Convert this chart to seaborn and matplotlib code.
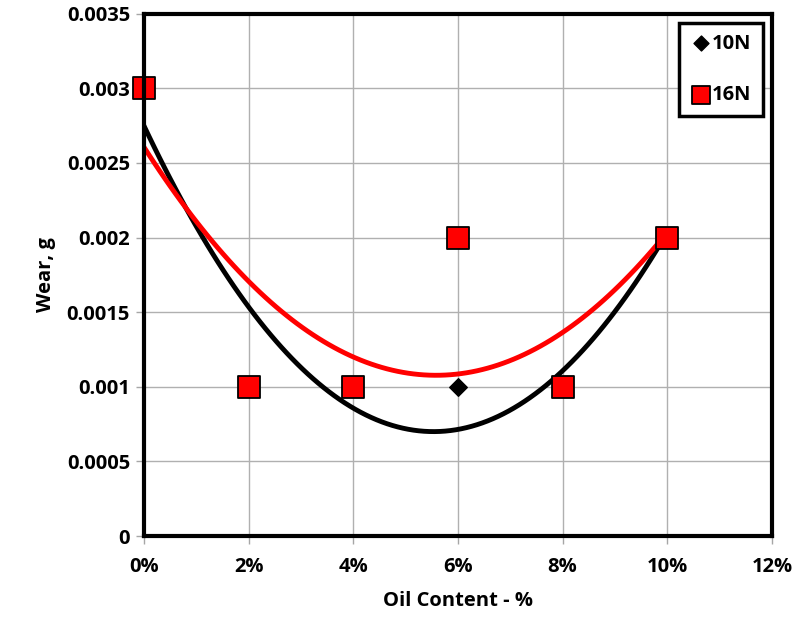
import matplotlib
matplotlib.use("Agg")
import matplotlib.pyplot as plt
import seaborn as sns
import numpy as np
import pandas as pd
from matplotlib.ticker import FuncFormatter, MultipleLocator

sns.set_theme(style="white")
plt.rcParams['font.family'] = ['Open Sans', 'DejaVu Sans']
plt.rcParams['text.color'] = 'black'
plt.rcParams['axes.labelcolor'] = 'black'
plt.rcParams['xtick.labelcolor'] = 'black'
plt.rcParams['ytick.labelcolor'] = 'black'

oil_content = [0.0, 0.02, 0.04, 0.06, 0.08, 0.10]
wear_10N = [0.003, 0.001, 0.001, 0.001, 0.001, 0.002]
wear_16N = [0.003, 0.001, 0.001, 0.002, 0.001, 0.002]
series_names = ["10N", "16N"]

df = pd.DataFrame({
    "oil": oil_content * 2,
    "wear": wear_10N + wear_16N,
    "load": [series_names[0]] * 6 + [series_names[1]] * 6,
})

fig = plt.figure(figsize=(7.95, 6.24), dpi=100)
ax = fig.add_axes([0.181, 0.141, 0.790, 0.837])

d10 = df[df["load"] == "10N"]
d16 = df[df["load"] == "16N"]

sns.regplot(data=d10, x="oil", y="wear", order=2, ci=None, scatter=False,
            line_kws=dict(color="black", lw=3.5, zorder=3), ax=ax)
sns.regplot(data=d16, x="oil", y="wear", order=2, ci=None, scatter=False,
            line_kws=dict(color="#ff0000", lw=3.5, zorder=4), ax=ax)

ax.scatter(d10["oil"], d10["wear"], marker="D", s=80, color="black",
           zorder=5, label="10N", clip_on=False)
ax.scatter(d16["oil"], d16["wear"], marker="s", s=230, color="#ff0000",
           edgecolor="black", linewidth=1.3, zorder=6, label="16N", clip_on=False)

ax.set_xlim(0, 0.12)
ax.set_ylim(0, 0.0035)
ax.xaxis.set_major_locator(MultipleLocator(0.02))
ax.yaxis.set_major_locator(MultipleLocator(0.0005))
ax.xaxis.set_major_formatter(FuncFormatter(lambda v, p: f"{v*100:.0f}%"))
ax.yaxis.set_major_formatter(FuncFormatter(lambda v, p: ("0" if abs(v) < 1e-12 else f"{v:.4f}".rstrip("0"))))

ax.grid(True, color="#b0b0b0", lw=1.0)
ax.set_axisbelow(True)
for s in ax.spines.values():
    s.set_color("black")
    s.set_linewidth(3)
    s.set_zorder(7)

ax.tick_params(axis="both", which="major", length=6, width=1, color="#a6a6a6",
               labelsize=14.5, pad=4, direction="out", bottom=True, left=True,
               labelcolor="black")
for lab in ax.get_xticklabels() + ax.get_yticklabels():
    lab.set_fontweight("bold")
ax.tick_params(axis="x", pad=9)

ax.set_xlabel("Oil Content - %", fontsize=14.5, fontweight="bold", labelpad=10, color="black")
ax.set_ylabel("Wear, g", fontsize=14.5, fontweight="bold", labelpad=8, color="black")

leg = ax.legend(loc="upper right", bbox_to_anchor=(0.985, 0.983), frameon=True,
                fancybox=False, edgecolor="black", framealpha=1,
                prop=dict(size=14.5, weight="bold"), handletextpad=0.0,
                handlelength=1.1, labelspacing=1.55, borderpad=0.55,
                borderaxespad=0.0, markerscale=0.85)
leg.get_frame().set_linewidth(2.5)
leg.set_zorder(8)
for t in leg.get_texts():
    t.set_color("black")

fig.savefig("out.png", dpi=100)
